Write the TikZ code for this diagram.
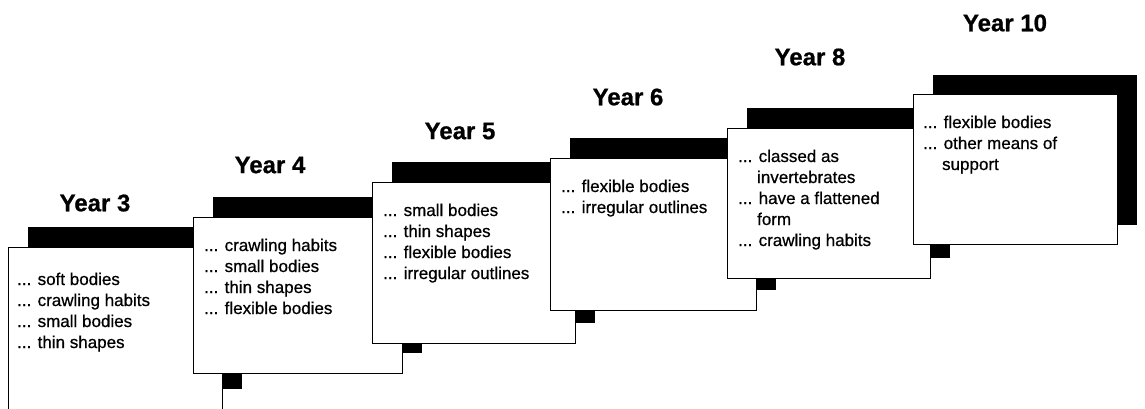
\documentclass[tikz,border=0pt]{standalone}
\usepackage{fontspec}
\setmainfont{Liberation Sans}
\newfontfamily\bodyfont[FakeBold=0.6]{Liberation Sans}
\newfontfamily\titlefont[FakeBold=0.8]{Liberation Sans Bold}
\begin{document}
\begin{tikzpicture}[x=1pt,y=-1pt,
  card/.style={draw=black,fill=white,line width=1pt,inner sep=0pt,anchor=north west},
  shade/.style={fill=black,draw=none,inner sep=0pt,anchor=north west},
  title/.style={font=\fontsize{24}{28}\selectfont\titlefont,inner sep=0pt,anchor=center},
  body/.style={inner sep=0pt,anchor=base west}]
\useasboundingbox (0,0) rectangle (1145,408);
\newcommand\bodytext[1]{\parbox[t]{195pt}{\fontsize{17}{21}\selectfont\bodyfont\raggedright #1}}
% Year 3
\node[shade,minimum width=214pt,minimum height=162pt] (s3) at (28,227) {};
\node[card,minimum width=214pt,minimum height=162pt] (c3) at (8,247) {};
\node[body] (t3) at (17,285) {\bodytext{... soft bodies\\... crawling habits\\... small bodies\\... thin shapes}};
\node[title] (y3) at (95,203) {Year 3};
% Year 4
\node[shade,minimum width=209pt,minimum height=156pt] (s4) at (213,197) {};
\node[card,minimum width=209pt,minimum height=156pt] (c4) at (193,217) {};
\node[body] (t4) at (204,251) {\bodytext{... crawling habits\\... small bodies\\... thin shapes\\... flexible bodies}};
\node[title] (y4) at (270,165) {Year 4};
% Year 5
\node[shade,minimum width=203pt,minimum height=161pt] (s5) at (392,162) {};
\node[card,minimum width=203pt,minimum height=161pt] (c5) at (372,182) {};
\node[body] (t5) at (383,216) {\bodytext{... small bodies\\... thin shapes\\... flexible bodies\\... irregular outlines}};
\node[title] (y5) at (460,131) {Year 5};
% Year 6
\node[shade,minimum width=206pt,minimum height=152pt] (s6) at (570,138) {};
\node[card,minimum width=206pt,minimum height=152pt] (c6) at (550,158) {};
\node[body] (t6) at (561,192) {\bodytext{... flexible bodies\\... irregular outlines}};
\node[title] (y6) at (628,97) {Year 6};
% Year 8
\node[shade,minimum width=203pt,minimum height=150pt] (s8) at (747,108) {};
\node[card,minimum width=203pt,minimum height=150pt] (c8) at (727,128) {};
\node[body] (t8) at (738,162) {\bodytext{... classed as\\\phantom{...\ }invertebrates\\... have a flattened\\\phantom{...\ }form\\... crawling habits}};
\node[title] (y8) at (810,57) {Year 8};
% Year 10
\node[shade,minimum width=204pt,minimum height=150pt] (s10) at (933,75) {};
\node[card,minimum width=204pt,minimum height=150pt] (c10) at (913,94) {};
\node[body] (t10) at (923,128) {\bodytext{... flexible bodies\\... other means of\\\phantom{...\ }support}};
\node[title] (y10) at (1005,23) {Year 10};
\end{tikzpicture}
\end{document}
